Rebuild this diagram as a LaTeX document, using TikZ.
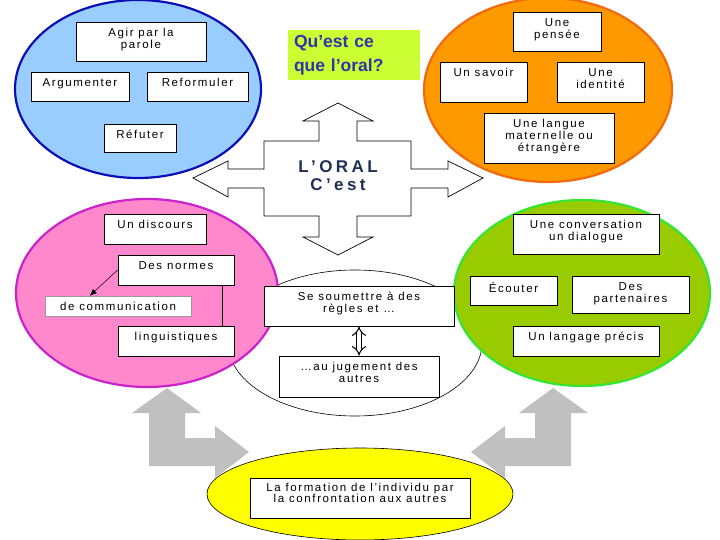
\documentclass[tikz,border=0pt]{standalone}
\usepackage{fontspec}
\setmainfont{Liberation Sans}
\newfontfamily\boxfont[LetterSpace=14]{Liberation Sans}
\newfontfamily\headfont[LetterSpace=20]{Liberation Sans}
\usetikzlibrary{arrows.meta, shapes.geometric, shadows}
\definecolor{bluefill}{HTML}{99CCFF}
\definecolor{blueborder}{HTML}{0A10B8}
\definecolor{orangefill}{HTML}{FF9900}
\definecolor{orangeborder}{HTML}{F26A10}
\definecolor{pinkfill}{HTML}{FF88CC}
\definecolor{pinkborder}{HTML}{CC22CC}
\definecolor{greenfill}{HTML}{99CC00}
\definecolor{greenborder}{HTML}{33E633}
\definecolor{yellowfill}{HTML}{FFFF00}
\definecolor{questionfill}{HTML}{CCFF33}
\definecolor{questiontext}{HTML}{3333AA}
\definecolor{oraltext}{HTML}{1F2F55}
\definecolor{arrowgray}{HTML}{C0C0C0}
\tikzset{
  blob/.style={ellipse, inner sep=0pt, line width=2.2pt},
  box/.style={rectangle, draw=black, fill=white, line width=0.8pt, inner sep=0pt,
    drop shadow={shadow xshift=0.9pt, shadow yshift=-0.9pt, fill=black, opacity=1}},
  boxlbl/.style={anchor=north, yshift=-6.5pt, inner sep=0pt, align=center,
    font=\boxfont\fontsize{11.5}{11.8}\selectfont},
  plainbox/.style={rectangle, draw=black!40, fill=white, line width=0.5pt, inner sep=0pt,
    font=\boxfont\fontsize{11.5}{11.8}\selectfont},
  questionbox/.style={rectangle, fill=questionfill, inner xsep=6pt, inner ysep=0pt, align=left,
    text=questiontext, font=\bfseries\fontsize{17.5}{24}\selectfont},
  oral-title/.style={align=center, text=oraltext, font=\headfont\bfseries\fontsize{17}{18}\selectfont},
  cross/.style={draw=black, line width=0.7pt, line join=miter},
  bigarrow/.style={fill=arrowgray},
  pointer/.style={-{Latex[length=2.4mm, width=2mm]}, line width=0.5pt, draw=black},
  link/.style={line width=1.6pt, draw=black},
  dbl/.style={{Implies}-{Implies}, double, double distance=4pt, line width=1pt}
}

\begin{document}
\begin{tikzpicture}[x=1pt, y=-1pt]

\fill[white] (0,0) rectangle (720,540);
\useasboundingbox (0,0) rectangle (720,540);

\node[blob, fill=white, draw=black, line width=0.6pt, minimum width=254pt, minimum height=146pt] (selfblob) at (355,343) {};
\node[blob, fill=bluefill, draw=blueborder, minimum width=246pt, minimum height=178pt] (actblob) at (138,89) {};
\node[blob, fill=orangefill, draw=orangeborder, minimum width=248pt, minimum height=184pt] (mindblob) at (548,90) {};
\node[blob, fill=pinkfill, draw=pinkborder, minimum width=262pt, minimum height=188pt] (speechblob) at (147,293) {};
\node[blob, fill=greenfill, draw=greenborder, minimum width=256pt, minimum height=186pt] (talkblob) at (582,293) {};

\fill[bigarrow] (167,388) -- (201,413) -- (185,413) -- (185,438) -- (215,438) -- (215,426) -- (249,452)
  -- (215,478) -- (215,466) -- (149,466) -- (149,413) -- (132,413) -- cycle;
\fill[bigarrow] (553,388) -- (519,413) -- (535,413) -- (535,438) -- (505,438) -- (505,426) -- (471,452)
  -- (505,478) -- (505,466) -- (571,466) -- (571,413) -- (588,413) -- cycle;
\node[blob, fill=yellowfill, draw=black, line width=0.6pt, minimum width=306pt, minimum height=92pt] (growblob) at (360,494) {};

\draw[cross] (338,103) -- (373,121) -- (357,121) -- (357,141) -- (411,141) -- (411,169) -- (448,169)
  -- (448,161) -- (483,178) -- (448,197) -- (448,188) -- (411,188) -- (411,216) -- (357,216)
  -- (357,237) -- (373,237) -- (338,255) -- (303,237) -- (319,237) -- (319,216) -- (264,216)
  -- (264,188) -- (228,188) -- (228,197) -- (193,178) -- (228,161) -- (228,169) -- (264,169)
  -- (264,141) -- (319,141) -- (319,121) -- (303,121) -- cycle;
\node[oral-title] (oral) at (338,176) {L’ORAL\\C’est};

\node[questionbox, minimum width=132pt, minimum height=50pt, text width=120pt] (question) at (354,55) {Qu’est ce\\que l’oral?};

\node[box, minimum width=130pt, minimum height=39pt, label={[boxlbl]north:Agir par la\\parole}] (agir) at (141,41.5) {};
\node[box, minimum width=98pt, minimum height=29pt, label={[boxlbl]north:Argumenter}] (argu) at (80,86.5) {};
\node[box, minimum width=101pt, minimum height=29pt, label={[boxlbl]north:Reformuler}] (reform) at (197.5,86.5) {};
\node[box, minimum width=72pt, minimum height=28pt, label={[boxlbl]north:Réfuter}] (refut) at (140,138) {};

\node[box, minimum width=88pt, minimum height=39pt, label={[boxlbl]north:Une\\pensée}] (pensee) at (557,31.5) {};
\node[box, minimum width=87pt, minimum height=40pt, label={[boxlbl]north:Un savoir}] (savoir) at (483.5,82) {};
\node[box, minimum width=87pt, minimum height=40pt, label={[boxlbl]north:Une\\identité}] (identite) at (600.5,82) {};
\node[box, minimum width=130pt, minimum height=50pt, label={[boxlbl]north:Une langue\\maternelle ou\\étrangère}] (langue) at (549,138) {};

\node[box, minimum width=102pt, minimum height=30pt, label={[boxlbl]north:Un discours}] (discours) at (155,229) {};
\node[box, minimum width=116pt, minimum height=30pt, label={[boxlbl]north:Des normes}] (normes) at (176,270) {};
\node[plainbox, minimum width=146pt, minimum height=20pt] (comm) at (118,306) {de communication};
\node[box, minimum width=116pt, minimum height=30pt, label={[boxlbl]north:linguistiques}] (ling) at (176,341) {};

\node[box, minimum width=146pt, minimum height=40pt, label={[boxlbl]north:Une conversation\\un dialogue}] (convers) at (586,234) {};
\node[box, minimum width=87pt, minimum height=29pt, label={[boxlbl]north:Écouter}] (ecouter) at (513.5,290.5) {};
\node[box, minimum width=117pt, minimum height=37pt, label={[boxlbl]north:Des\\partenaires}] (parten) at (630.5,294.5) {};
\node[box, minimum width=146pt, minimum height=30pt, label={[boxlbl]north:Un langage précis}] (langage) at (586,341) {};

\node[box, minimum width=190pt, minimum height=40pt, label={[boxlbl]north:Se soumettre à des\\règles et \ldots}] (soumettre) at (359,306) {};
\node[box, minimum width=160pt, minimum height=41pt, label={[boxlbl]north:\ldots au jugement des\\autres}] (jugement) at (359,376.5) {};

\node[box, minimum width=220pt, minimum height=40pt, label={[boxlbl, yshift=1.5pt]north:La formation de l’individu par\\la confrontation aux autres}] (formation) at (360,498) {};

\draw[pointer] (normes.west) -- (comm.160);
\draw[link] ([xshift=-12pt]normes.south east) -- ([xshift=-12pt]ling.north east);
\draw[dbl] (soumettre.south) -- (jugement.north);

\end{tikzpicture}
\end{document}
